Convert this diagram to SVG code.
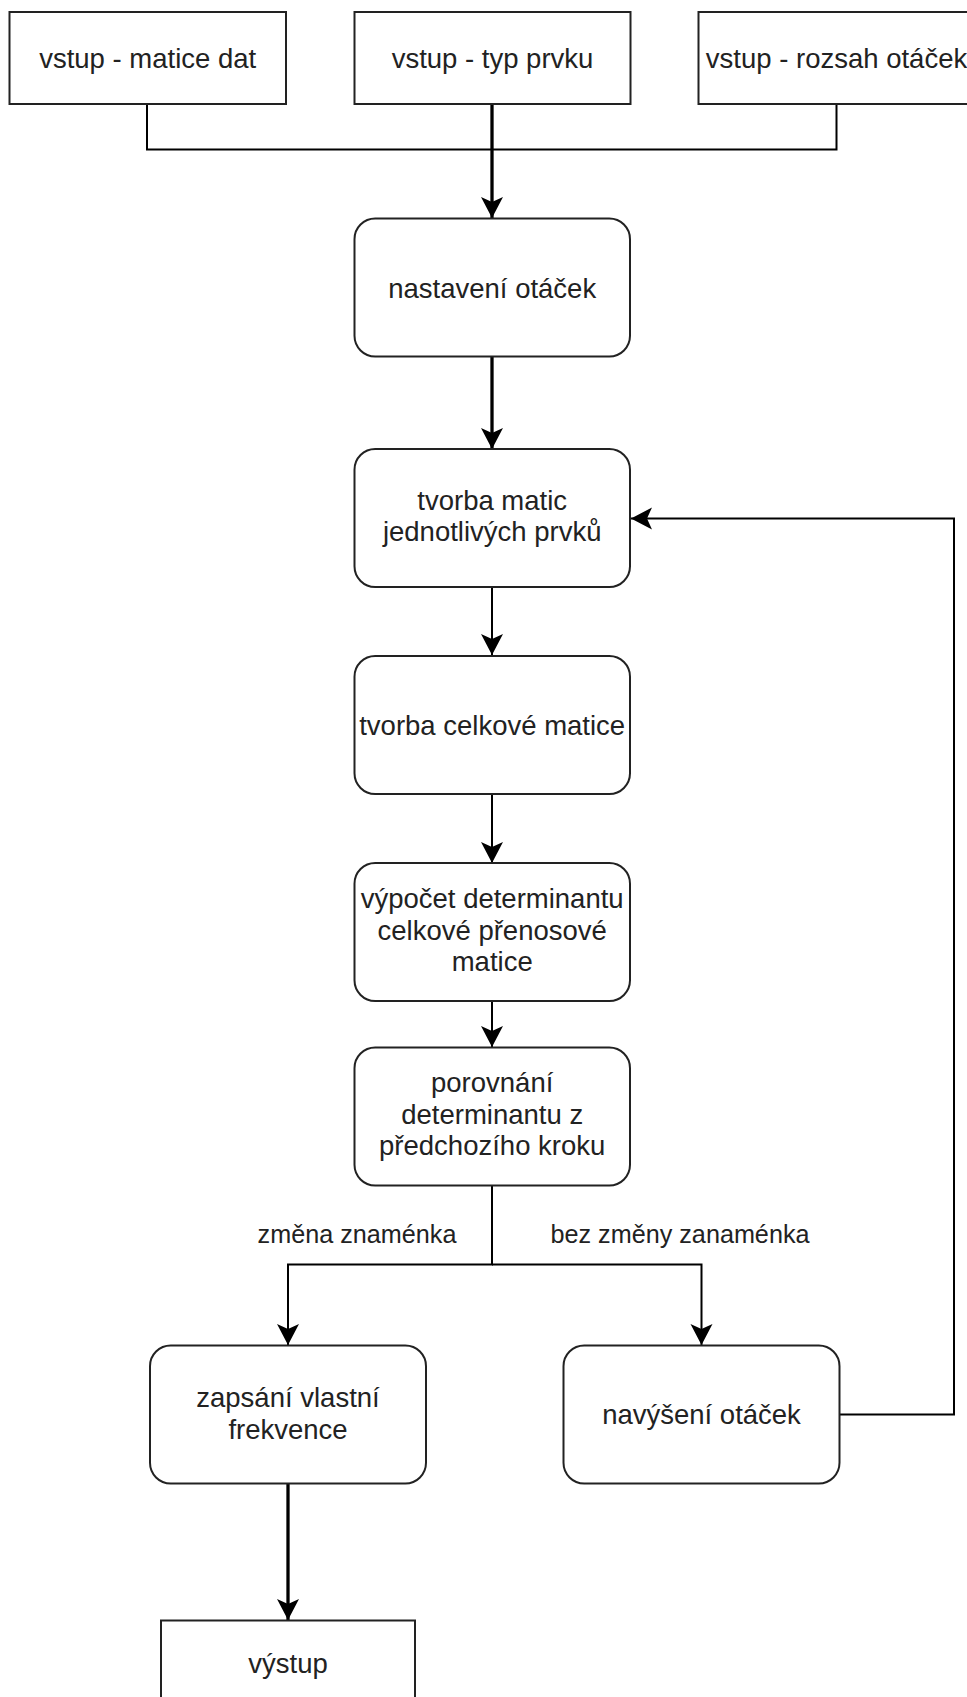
<svg xmlns="http://www.w3.org/2000/svg" width="967" height="1697" viewBox="0 0 967 1697">
<style>
.box{fill:#fff;stroke:#222;stroke-width:2}
.t{font-family:"Liberation Sans",Arial,sans-serif;font-size:27.5px;fill:#222;text-anchor:middle}
.lbl{font-family:"Liberation Sans",Arial,sans-serif;font-size:25.2px;fill:#222;text-anchor:middle}
.e{fill:none;stroke:#000;stroke-width:2}
.ek{fill:none;stroke:#000;stroke-width:3.3}
</style>
<defs>
<marker id="arr" markerUnits="userSpaceOnUse" markerWidth="22" markerHeight="23" viewBox="0 0 22 23" refX="21" refY="11.5" orient="auto">
<path d="M21,11.5 L0,0.5 L5,11.5 L0,22.5 Z" fill="#000"/>
</marker>
</defs>
<rect width="967" height="1697" fill="#fff"/>
<g id="connectors">
<path class="e" d="M147,104 V149.5 H836.5 V104"/>
<path class="ek" d="M492,104 V218" marker-end="url(#arr)"/>
<path class="ek" d="M492,356 V449" marker-end="url(#arr)"/>
<path class="e" d="M492,587 V655" marker-end="url(#arr)"/>
<path class="e" d="M492,794 V863" marker-end="url(#arr)"/>
<path class="e" d="M492,1001 V1047" marker-end="url(#arr)"/>
<path class="e" d="M492,1186 V1264.5 H288 V1345" marker-end="url(#arr)"/>
<path class="e" d="M492,1264.5 H701.5 V1345" marker-end="url(#arr)"/>
<path class="e" d="M840,1414.5 H954 V518.5 H631" marker-end="url(#arr)"/>
<path class="ek" d="M288,1483 V1620" marker-end="url(#arr)"/>
<text class="lbl" x="357" y="1243">změna znaménka</text>
<text class="lbl" x="680" y="1243">bez změny zanaménka</text>
</g>
<g id="in1">
<rect class="box" x="9.5" y="12" width="276.5" height="92"/>
<text class="t" x="147.7" y="67.5">vstup - matice dat</text>
</g>
<g id="in2">
<rect class="box" x="354.5" y="12" width="276" height="92"/>
<text class="t" x="492.5" y="67.5">vstup - typ prvku</text>
</g>
<g id="in3">
<rect class="box" x="698.5" y="12" width="276" height="92"/>
<text class="t" x="836.5" y="67.5">vstup - rozsah otáček</text>
</g>
<g id="nastaveni">
<rect class="box" x="354.5" y="218.5" width="275.5" height="138" rx="20.7"/>
<text class="t" x="492.2" y="297.5">nastavení otáček</text>
</g>
<g id="tvorba-matic">
<rect class="box" x="354.5" y="449" width="275.5" height="138" rx="20.7"/>
<text class="t" x="492.2" y="509.5">tvorba matic</text>
<text class="t" x="492.2" y="541">jednotlivých prvků</text>
</g>
<g id="tvorba-celkove">
<rect class="box" x="354.5" y="656" width="275.5" height="138" rx="20.7"/>
<text class="t" x="492.2" y="734.5">tvorba celkové matice</text>
</g>
<g id="vypocet">
<rect class="box" x="354.5" y="863" width="275.5" height="138" rx="20.7"/>
<text class="t" x="492.2" y="908">výpočet determinantu</text>
<text class="t" x="492.2" y="939.5">celkové přenosové</text>
<text class="t" x="492.2" y="971">matice</text>
</g>
<g id="porovnani">
<rect class="box" x="354.5" y="1047.5" width="275.5" height="138" rx="20.7"/>
<text class="t" x="492.2" y="1092">porovnání</text>
<text class="t" x="492.2" y="1123.5">determinantu z</text>
<text class="t" x="492.2" y="1155">předchozího kroku</text>
</g>
<g id="zapsani">
<rect class="box" x="150" y="1345.5" width="276" height="138" rx="20.7"/>
<text class="t" x="288" y="1407">zapsání vlastní</text>
<text class="t" x="288" y="1438.5">frekvence</text>
</g>
<g id="navyseni">
<rect class="box" x="563.5" y="1345.5" width="276" height="138" rx="20.7"/>
<text class="t" x="701.5" y="1424">navýšení otáček</text>
</g>
<g id="vystup">
<rect class="box" x="161" y="1620.5" width="254" height="92"/>
<text class="t" x="288" y="1673">výstup</text>
</g>
</svg>
